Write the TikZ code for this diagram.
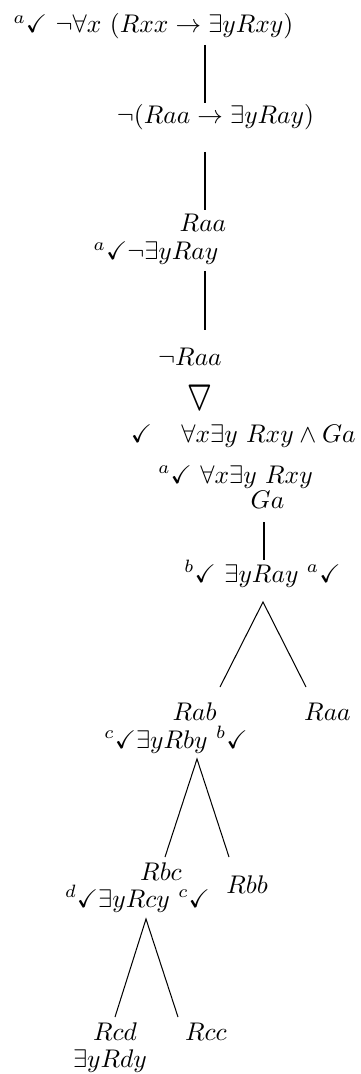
\documentclass[tikz,border=0pt]{standalone}
\usepackage{amssymb}
\begin{document}
\begin{tikzpicture}[x=0.392pt,y=-0.392pt,
  lbl/.style={anchor=base,inner sep=0pt,outer sep=0pt},
  vline/.style={line width=0.7pt},
  bline/.style={line width=0.4pt}]
\useasboundingbox (0,0) rectangle (361,1074);
% formulas
\node[lbl] (f1)  at (153.5,33)  {$^{a}\checkmark\ \neg\forall x\ (Rxx\rightarrow\exists yRxy)$};
\node[lbl] (f2)  at (215.5,124) {$\neg(Raa\rightarrow\exists yRay)$};
\node[lbl] (f3)  at (203,232)   {$Raa$};
\node[lbl] (f4)  at (156,260)   {$^{a}\checkmark\neg\exists yRay$};
\node[lbl] (f5)  at (190,365)   {$\neg Raa$};
\node[lbl] (nab) at (200,403.5) {\scalebox{0.95}[1.45]{\boldmath$\bigtriangledown$}};
\node[lbl] (chk) at (141.5,442) {$\checkmark$};
\node[lbl] (f6)  at (268.5,442) {$\forall x\exists y\ Rxy\wedge Ga$};
\node[lbl] (f7)  at (235.5,483) {$^{a}\checkmark\ \forall x\exists y\ Rxy$};
\node[lbl] (f8)  at (267.5,508) {$Ga$};
\node[lbl] (f9)  at (262.5,582) {$^{b}\checkmark\ \exists yRay\ ^{a}\checkmark$};
\node[lbl] (f10) at (194.5,720) {$Rab$};
\node[lbl] (f11) at (327.5,720) {$Raa$};
\node[lbl] (f12) at (176,748)   {$^{c}\checkmark\exists yRby\ ^{b}\checkmark$};
\node[lbl] (f13) at (161,880)   {$Rbc$};
\node[lbl] (f14) at (247,893)   {$Rbb$};
\node[lbl] (f15) at (137.5,907) {$^{d}\checkmark\exists yRcy\ ^{c}\checkmark$};
\node[lbl] (f16) at (115,1040)  {$Rcd$};
\node[lbl] (f17) at (206,1040)  {$Rcc$};
\node[lbl] (f18) at (110,1067)  {$\exists yRdy$};
% connector ends
\coordinate (a1) at (205,45);   \coordinate (b1) at (205,103);
\coordinate (a2) at (205,152);  \coordinate (b2) at (205,210);
\coordinate (a3) at (205,271);  \coordinate (b3) at (205,330);
\coordinate (a4) at (264,522);  \coordinate (b4) at (264,560);
\coordinate (p1) at (263,602);  \coordinate (l1) at (220,687); \coordinate (r1) at (306,687);
\coordinate (p2) at (197,759);  \coordinate (l2) at (165,857); \coordinate (r2) at (229,857);
\coordinate (p3) at (146,919);  \coordinate (l3) at (115,1017); \coordinate (r3) at (178,1017);
% connectors
\draw[vline] (a1) -- (b1);
\draw[vline] (a2) -- (b2);
\draw[vline] (a3) -- (b3);
\draw[vline] (a4) -- (b4);
\draw[bline] (l1) -- (p1) -- (r1);
\draw[bline] (l2) -- (p2) -- (r2);
\draw[bline] (l3) -- (p3) -- (r3);
\end{tikzpicture}
\end{document}
